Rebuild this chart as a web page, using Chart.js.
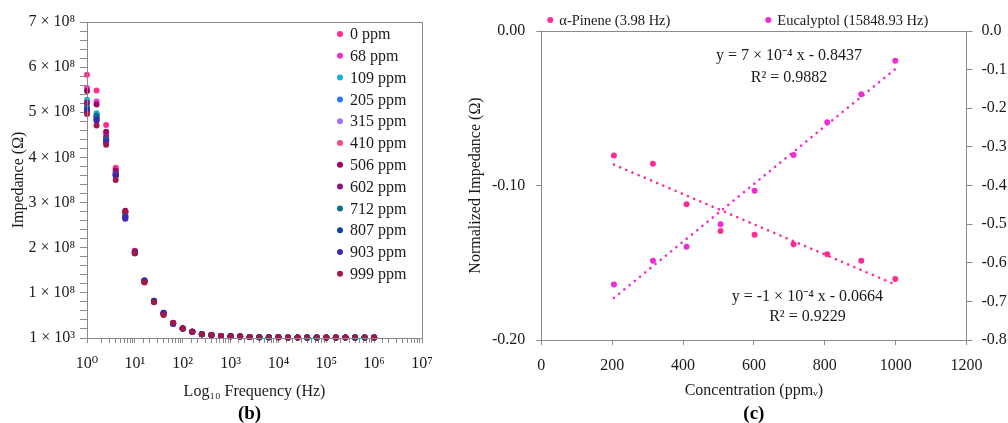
<!DOCTYPE html>
<html>
<head>
<meta charset="utf-8">
<script src="https://cdn.jsdelivr.net/npm/chart.js"></script>
<style>
  html, body { margin: 0; padding: 0; background: #fff; overflow: hidden; }
  #wrap { position: relative; width: 1008px; height: 423px; overflow: hidden; }
  canvas { position: absolute; top: 0; }
  #impChart { left: 0; }
  #concChart { left: 466px; }
</style>
</head>
<body>
<div id="wrap">
  <canvas id="impChart" width="444" height="423"></canvas>
  <canvas id="concChart" width="560" height="423"></canvas>
</div>
<script>
// ---- (b) impedance vs frequency, values in units of 10^8 ohm ----
const freqs = [1, 1.585, 2.512, 3.981, 6.31, 10, 15.85, 25.12, 39.81, 63.1,
  100, 158.5, 251.2, 398.1, 631, 1000, 1585, 2512, 3981, 6310,
  10000, 15849, 25119, 39811, 63096, 100000, 158489, 251189, 398107, 630957, 1000000];

const ppmLabels = ['0 ppm', '68 ppm', '109 ppm', '205 ppm', '315 ppm', '410 ppm',
  '506 ppm', '602 ppm', '712 ppm', '807 ppm', '903 ppm', '999 ppm'];
const ppmColors = ['#ff2e8f', '#f22fd3', '#13b1e8', '#2f79f0', '#9b72f0', '#fb4a7a',
  '#a3005a', '#8e157c', '#0b6f97', '#0b3fb0', '#4225b5', '#a51747'];

// first 10 frequencies differ per concentration, above 100 Hz they all overlap
const imp0   = [5.83, 5.48, 4.72, 3.77, 2.80, 1.93, 1.26, 0.82, 0.54, 0.33];
const imp68  = [5.54, 5.24, 4.52, 3.73, 2.78, 1.92, 1.25, 0.81, 0.54, 0.33];
const imp109 = [5.28, 4.98, 4.42, 3.65, 2.72, 1.90, 1.27, 0.82, 0.55, 0.31];
const imp205 = [5.13, 4.88, 4.38, 3.62, 2.68, 1.89, 1.28, 0.82, 0.56, 0.32];
const imp315 = [5.16, 4.86, 4.37, 3.62, 2.66, 1.90, 1.28, 0.83, 0.55, 0.32];
const imp410 = [5.20, 4.90, 4.40, 3.64, 2.70, 1.91, 1.26, 0.82, 0.54, 0.33];
const imp506 = [5.47, 5.17, 4.57, 3.71, 2.82, 1.92, 1.24, 0.80, 0.52, 0.33];
const imp602 = [5.21, 4.92, 4.45, 3.66, 2.78, 1.91, 1.25, 0.81, 0.53, 0.33];
const imp712 = [5.10, 4.93, 4.39, 3.61, 2.70, 1.89, 1.27, 0.82, 0.55, 0.31];
const imp807 = [5.05, 4.84, 4.36, 3.59, 2.67, 1.88, 1.27, 0.82, 0.56, 0.32];
const imp903 = [5.03, 4.81, 4.34, 3.60, 2.64, 1.88, 1.27, 0.81, 0.55, 0.32];
const imp999 = [4.96, 4.71, 4.28, 3.50, 2.80, 1.88, 1.23, 0.79, 0.51, 0.34];
const impTail = [0.21, 0.14, 0.082, 0.066, 0.044, 0.037, 0.035, 0.020, 0.018, 0.015,
  0.014, 0.013, 0.012, 0.012, 0.011, 0.011, 0.010, 0.010, 0.010, 0.010, 0.010];
const impSeries = [imp0, imp68, imp109, imp205, imp315, imp410, imp506, imp602, imp712, imp807, imp903, imp999];

const xTickLabels = ['10⁰', '10¹', '10²', '10³', '10⁴', '10⁵', '10⁶', '10⁷'];
const yTickLabels = ['1 × 10³', '1 × 10⁸', '2 × 10⁸', '3 × 10⁸', '4 × 10⁸', '5 × 10⁸', '6 × 10⁸', '7 × 10⁸'];

// ---- (c) normalized impedance vs concentration ----
const conc = [205, 315, 410, 506, 602, 712, 807, 903, 999];
const alphaPinene = [-0.0806, -0.0860, -0.1121, -0.1294, -0.1318, -0.1380, -0.1445, -0.1487, -0.1605];
const eucalyptol = [-0.656, -0.595, -0.5585, -0.5005, -0.4135, -0.321, -0.236, -0.164, -0.077];
const seriesNames = ['α-Pinene (3.98 Hz)', 'Eucalyptol (15848.93 Hz)'];
const seriesColors = ['#ff2e93', '#ee2ed2'];
const eqTexts = [['y = 7 × 10⁻⁴ x - 0.8437', 'R² = 0.9882'], ['y = -1 × 10⁻⁴ x - 0.0664', 'R² = 0.9229']];

const axisGrey = '#8a8a8a';
const textCol = '#1a1a1a';
Chart.defaults.font.family = "'Liberation Serif', 'DejaVu Serif', serif";
Chart.defaults.font.size = 16;
Chart.defaults.color = textCol;

function align(v) { return Math.round(v - 0.5) + 0.5; }

function drawBox(chart) {
  const a = chart.chartArea, ctx = chart.ctx;
  ctx.save();
  ctx.strokeStyle = axisGrey;
  ctx.lineWidth = 1;
  ctx.strokeRect(align(a.left), align(a.top), align(a.right) - align(a.left), align(a.bottom) - align(a.top));
  ctx.restore();
}

function panelLabel(chart, txt, dx) {
  const a = chart.chartArea, ctx = chart.ctx;
  ctx.save();
  ctx.font = "bold 19px 'Liberation Serif', serif";
  ctx.fillStyle = '#000';
  ctx.textAlign = 'center';
  ctx.textBaseline = 'middle';
  ctx.fillText(txt, (a.left + a.right) / 2 + dx, 414);
  ctx.restore();
}

const impExtras = {
  id: 'impExtras',
  afterDraw(chart) {
    drawBox(chart);
    const a = chart.chartArea, ctx = chart.ctx;
    ctx.save();
    ctx.font = "16px 'Liberation Serif', serif";
    ctx.textBaseline = 'middle';
    chart.data.datasets.forEach((ds, i) => {
      const x = a.right - 82, y = a.top + 12 + i * 21.8;
      ctx.fillStyle = ds.backgroundColor;
      ctx.beginPath();
      ctx.arc(x, y, 3, 0, Math.PI * 2);
      ctx.fill();
      ctx.fillStyle = textCol;
      ctx.fillText(ds.label, x + 10, y + 1);
    });
    ctx.restore();
    panelLabel(chart, '(b)', -5);
  }
};

new Chart(document.getElementById('impChart'), {
  type: 'scatter',
  data: {
    datasets: ppmLabels.map((lab, i) => ({
      label: lab,
      data: impSeries[i].concat(impTail).map((v, k) => ({ x: freqs[k], y: v })),
      backgroundColor: ppmColors[i],
      borderWidth: 0,
      pointRadius: 3,
      clip: false,
      order: ppmLabels.length - 1 - i
    }))
  },
  options: {
    responsive: false,
    animation: false,
    layout: { autoPadding: false, padding: { top: 22, right: 22, bottom: 22, left: 0 } },
    plugins: { legend: { display: false }, tooltip: { enabled: false } },
    scales: {
      x: {
        type: 'logarithmic', min: 1, max: 1e7,
        grid: { drawOnChartArea: false, tickLength: 5, color: axisGrey },
        border: { color: axisGrey },
        ticks: {
          autoSkip: false, maxRotation: 0, padding: 11,
          callback: (v) => {
            const e = Math.log10(v);
            return Math.abs(e - Math.round(e)) < 1e-6 ? xTickLabels[Math.round(e)] : '';
          }
        },
        title: { display: true, text: 'Log₁₀ Frequency (Hz)', padding: { top: 4, bottom: 0 } },
        afterFit: (s) => { s.height = 63; }
      },
      y: {
        min: 0, max: 7,
        grid: { drawOnChartArea: false, tickLength: 7, color: axisGrey },
        border: { color: axisGrey },
        ticks: {
          stepSize: 0.2, autoSkip: false, padding: 5,
          callback: (v) => Math.abs(v - Math.round(v)) < 1e-6 ? yTickLabels[Math.round(v)] : ''
        },
        title: { display: true, text: 'Impedance (Ω)', padding: { top: 9, bottom: 0 } },
        afterFit: (s) => { s.width = 87; }
      }
    }
  },
  plugins: [impExtras]
});

// least squares line through the read points
function fitLine(xs, ys) {
  const n = xs.length;
  const mx = xs.reduce((s, v) => s + v, 0) / n;
  const my = ys.reduce((s, v) => s + v, 0) / n;
  let sxy = 0, sxx = 0;
  for (let i = 0; i < n; i++) { sxy += (xs[i] - mx) * (ys[i] - my); sxx += (xs[i] - mx) ** 2; }
  const m = sxy / sxx;
  return (x) => m * x + (my - m * mx);
}
function trendPoints(xs, ys) {
  const f = fitLine(xs, ys);
  const x0 = xs[0], x1 = xs[xs.length - 1];
  return [{ x: x0, y: f(x0) }, { x: x1, y: f(x1) }];
}

const concExtras = {
  id: 'concExtras',
  afterDraw(chart) {
    drawBox(chart);
    const a = chart.chartArea, ctx = chart.ctx;
    const xs = chart.scales.x, ys = chart.scales.y;
    ctx.save();
    // legend above the plot
    ctx.font = "14.5px 'Liberation Serif', serif";
    ctx.textBaseline = 'middle';
    [9, 227].forEach((off, i) => {
      const x = a.left + off, y = a.top - 11;
      ctx.fillStyle = seriesColors[i];
      ctx.beginPath();
      ctx.arc(x, y, 3, 0, Math.PI * 2);
      ctx.fill();
      ctx.fillStyle = textCol;
      ctx.fillText(seriesNames[i], x + 9, y + 1);
    });
    // trendline equations
    ctx.font = "16px 'Liberation Serif', serif";
    ctx.textAlign = 'center';
    const anchors = [[699, -0.016, -0.0303], [751, -0.1722, -0.185]];
    anchors.forEach((p, i) => {
      const cx = xs.getPixelForValue(p[0]);
      ctx.fillText(eqTexts[i][0], cx, ys.getPixelForValue(p[1]));
      ctx.fillText(eqTexts[i][1], cx, ys.getPixelForValue(p[2]));
    });
    ctx.restore();
    panelLabel(chart, '(c)', 0);
  }
};

new Chart(document.getElementById('concChart'), {
  type: 'scatter',
  data: {
    datasets: [
      { label: seriesNames[0], data: conc.map((c, i) => ({ x: c, y: alphaPinene[i] })), yAxisID: 'y',
        backgroundColor: seriesColors[0], borderWidth: 0, pointRadius: 3, order: 0 },
      { label: seriesNames[1], data: conc.map((c, i) => ({ x: c, y: eucalyptol[i] })), yAxisID: 'y1',
        backgroundColor: seriesColors[1], borderWidth: 0, pointRadius: 3, order: 0 },
      { type: 'line', label: 'trend a', data: trendPoints(conc, alphaPinene), yAxisID: 'y',
        borderColor: seriesColors[0], borderWidth: 2.6, borderDash: [0.1, 6.6], borderCapStyle: 'round',
        pointRadius: 0, fill: false, order: 1 },
      { type: 'line', label: 'trend e', data: trendPoints(conc, eucalyptol), yAxisID: 'y1',
        borderColor: seriesColors[1], borderWidth: 2.6, borderDash: [0.1, 6.6], borderCapStyle: 'round',
        pointRadius: 0, fill: false, order: 1 }
    ]
  },
  options: {
    responsive: false,
    animation: false,
    layout: { padding: { top: 31, right: 0, bottom: 23, left: 0 } },
    plugins: { legend: { display: false }, tooltip: { enabled: false } },
    scales: {
      x: {
        type: 'linear', min: 0, max: 1200,
        grid: { drawOnChartArea: false, tickLength: 5, color: axisGrey },
        border: { color: axisGrey },
        ticks: { stepSize: 200, maxRotation: 0, padding: 11, callback: (v) => String(v) },
        title: { display: true, text: 'Concentration (ppmᵥ)', padding: { top: 4, bottom: 0 } },
        afterFit: (s) => { s.height = 60; }
      },
      y: {
        position: 'left', min: -0.2, max: 0,
        grid: { drawOnChartArea: false, tickLength: 5, color: axisGrey },
        border: { color: axisGrey },
        ticks: { stepSize: 0.1, padding: 11, callback: (v) => v.toFixed(2) },
        title: { display: true, text: 'Normalized Impedance (Ω)', padding: { top: 0, bottom: 0 } },
        afterFit: (s) => { s.width = 75.3; }
      },
      y1: {
        position: 'right', min: -0.8, max: 0,
        grid: { drawOnChartArea: false, tickLength: 6, color: axisGrey },
        border: { color: axisGrey },
        ticks: { stepSize: 0.1, padding: 9, callback: (v) => v.toFixed(1) },
        afterFit: (s) => { s.width = 59.5; }
      }
    }
  },
  plugins: [concExtras]
});
</script>
</body>
</html>
